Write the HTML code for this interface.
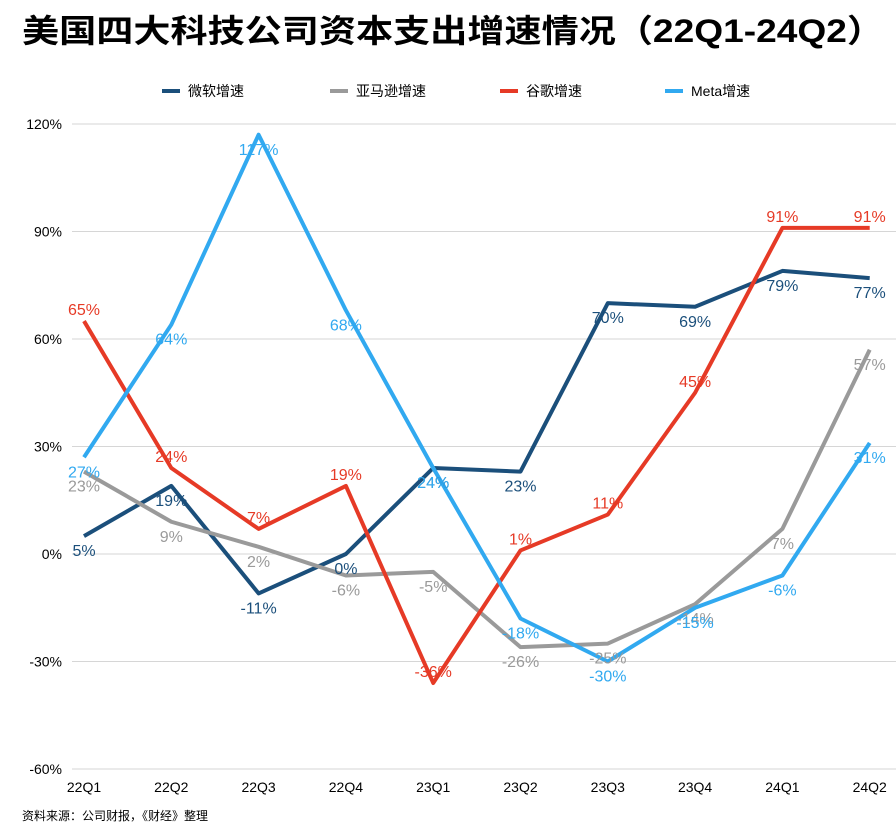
<!DOCTYPE html>
<html><head><meta charset="utf-8"><style>
html,body{margin:0;padding:0;background:#fff;}
svg{display:block;font-family:"Liberation Sans","Noto Sans CJK SC",sans-serif;}
</style></head><body>
<svg id="chart" width="896" height="828" viewBox="0 0 896 828">
<text x="22" y="42" font-size="32" font-weight="bold" fill="#000" textLength="862" lengthAdjust="spacingAndGlyphs">美国四大科技公司资本支出增速情况（22Q1-24Q2）</text>
<g id="legend"></g>
<g id="grid"></g>
<g id="series"></g>
<text x="22" y="820" font-size="12" fill="#000">资料来源：公司财报，《财经》整理</text>
</svg>
<script>
const categories=["22Q1","22Q2","22Q3","22Q4","23Q1","23Q2","23Q3","23Q4","24Q1","24Q2"];
const yTicks=[120,90,60,30,0,-30,-60];
const seriesNames=["微软增速","亚马逊增速","谷歌增速","Meta增速"];
const seriesColors=["#1b4f7b","#9a9a9a","#e63a26","#31a9f0"];
const msft=[5,19,-11,0,24,23,70,69,79,77];
const amzn=[23,9,2,-6,-5,-26,-25,-14,7,57];
const goog=[65,24,7,19,-36,1,11,45,91,91];
const meta=[27,64,117,68,24,-18,-30,-15,-6,31];
const allSeries=[msft,amzn,goog,meta];
const labelOffsets=[14,14,-12,14];

const NS="http://www.w3.org/2000/svg";
function y(v){return 554-(v/30)*107.5;}
function x(i){return 84+i*87.3;}
function mk(tag,attrs,parent){const e=document.createElementNS(NS,tag);for(const k in attrs)e.setAttribute(k,attrs[k]);parent.appendChild(e);return e;}
const grid=document.getElementById('grid');
yTicks.forEach(t=>{
  const l=mk('line',{x1:72,x2:896,y1:y(t),y2:y(t),stroke:'#d6d6d6','stroke-width':1},grid);
  
  
  const tx=mk('text',{x:62,y:y(t)+5,'text-anchor':'end','font-size':14,fill:'#000'},grid);
  tx.textContent=t+'%';
  
  
});
categories.forEach((c,i)=>{
  const tx=mk('text',{x:x(i),y:792,'text-anchor':'middle','font-size':14,fill:'#000'},grid);
  tx.textContent=c;
  
  
});
const legend=document.getElementById('legend');
const lx=[162,330,500,665];
seriesNames.forEach((n,k)=>{
  const l=mk('line',{x1:lx[k],x2:lx[k]+18,y1:91,y2:91,stroke:seriesColors[k],'stroke-width':4},legend);
  
  
  const t=mk('text',{x:lx[k]+26,y:96,'font-size':14,fill:'#000'},legend);
  t.textContent=n;
  
  
});
const sg=document.getElementById('series');
allSeries.forEach((vals,k)=>{
  const p=mk('polyline',{points:vals.map((v,i)=>x(i)+','+y(v)).join(' '),fill:'none',stroke:seriesColors[k],'stroke-width':4,'stroke-linejoin':'round'},sg);
  
  
});
allSeries.forEach((vals,k)=>{
  vals.forEach((v,i)=>{
    let xx=x(i);
    if(i===0)xx=Math.max(xx,80);
    if(i===9)xx=Math.min(xx,870);
    const t=mk('text',{x:xx,y:y(v)+labelOffsets[k]+6,'text-anchor':'middle','font-size':16,fill:seriesColors[k]},sg);
    t.textContent=v+'%';
    
    
  });
});
</script>
</body></html>
